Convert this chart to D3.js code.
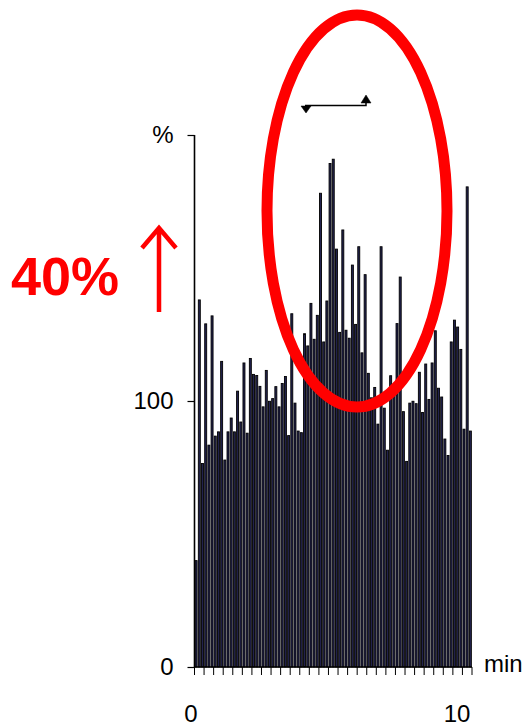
<!DOCTYPE html>
<html>
<head>
<meta charset="utf-8">
<script src="https://cdn.jsdelivr.net/npm/d3@7"></script>
<style>
  html, body { margin: 0; padding: 0; background: #fff; }
  svg { display: block; }
</style>
</head>
<body>
<svg id="chart" width="526" height="728"></svg>
<script>
// percent of baseline, one bar per sample over 10 min
const values = [
    40, 138, 76.5, 129, 83.4, 132, 86.8, 88.4, 114.9, 77.8,
    88.4, 93.6, 88.4, 103.7, 92.1, 114.3, 87.9, 116, 110, 109.6,
    105.5, 97.8, 111.5, 99.9, 100.9, 105.4, 97.8, 106.6, 109.2, 87,
    132.8, 99.2, 88.7, 88.1, 125.3, 120.7, 136.7, 123.2, 132.2, 178.1,
    122.2, 137.6, 189.3, 190.9, 157.1, 125.8, 164.3, 126.6, 123.6, 151.1,
    128.8, 158, 118.1, 147.5, 110.4, 101.2, 105.1, 91.3, 158, 97.3,
    81.5, 109.5, 103.2, 129.1, 146.6, 96, 77.3, 99.2, 99.9, 99,
    110.8, 95.7, 113.9, 100.6, 114.3, 126.4, 104.8, 101.5, 85.7, 79.5,
    122.2, 130.4, 127.8, 119.4, 89.4, 180.5, 88.7
];
const yTicks = [0, 100, 200];
const yTickLabels = ['0', '100', '%'];
const xLabels = [{t: 0, label: '0'}, {t: 10, label: '10'}];
const xUnit = 'min';
const callout = '40%';

(function () {
    const svg = d3.select('#chart')
        .style('font-family', '"Liberation Sans", Arial, sans-serif');

    const x = d3.scaleBand()
        .domain(d3.range(values.length))
        .range([194.5, 472])
        .paddingInner(0.38)
        .paddingOuter(0.2);

    const y = d3.scaleLinear()
        .domain([0, 200])
        .range([667, 135]);

    // minutes -> px, 0..10 min spans the sampled range
    const t = d3.scaleLinear().domain([0, 10]).range([191, 457]);

    // bars
    svg.append('g')
        .selectAll('rect')
        .data(values)
        .join('rect')
        .attr('x', (d, i) => x(i))
        .attr('y', d => y(d))
        .attr('width', x.bandwidth())
        .attr('height', d => y(0) - y(d))
        .attr('fill', '#22224e')
        .attr('stroke', '#000')
        .attr('stroke-width', 0.9);

    // y axis
    const yAxis = svg.append('g')
        .attr('transform', 'translate(194.5,0)')
        .call(d3.axisLeft(y).tickValues(yTicks).tickSize(7)
            .tickFormat((d, i) => yTickLabels[i]));
    yAxis.select('.domain').attr('d', `M0,${y(200)}V${y(0)}`).attr('stroke-width', 1.6);
    yAxis.selectAll('.tick line').attr('stroke-width', 1.2);
    yAxis.selectAll('.tick text')
        .attr('x', -21)
        .attr('font-size', 24)
        .attr('font-family', '"Liberation Sans", Arial, sans-serif')
        .attr('fill', '#000');

    // x axis: tick every 3 samples
    const xTickPos = d3.range(0, values.length + 1, 3).map(i => 194.5 + (472 - 194.5) * i / values.length);
    const xAxis = svg.append('g');
    xAxis.append('line')
        .attr('x1', 194.5).attr('x2', 472)
        .attr('y1', y(0)).attr('y2', y(0))
        .attr('stroke', '#000').attr('stroke-width', 1.6);
    xAxis.selectAll('line.tk')
        .data(xTickPos)
        .join('line')
        .attr('class', 'tk')
        .attr('x1', d => d).attr('x2', d => d)
        .attr('y1', y(0)).attr('y2', y(0) + 8)
        .attr('stroke', '#000').attr('stroke-width', 1);

    svg.append('text')
        .attr('x', 484).attr('y', 672)
        .attr('font-size', 24)
        .text(xUnit);

    svg.selectAll('text.xl')
        .data(xLabels)
        .join('text')
        .attr('class', 'xl')
        .attr('x', d => t(d.t))
        .attr('y', 722)
        .attr('text-anchor', 'middle')
        .attr('font-size', 24)
        .text(d => d.label);

    // black marker above the peak
    const mk = svg.append('g').attr('fill', '#000').attr('stroke', '#000');
    mk.append('path')
        .attr('d', 'M305,105.5H366V101')
        .attr('fill', 'none').attr('stroke-width', 1.5);
    mk.append('path').attr('d', 'M301,106L311,106L306,113Z').attr('stroke-width', 0.5);
    mk.append('path').attr('d', 'M361,103L371,103L366,95Z').attr('stroke-width', 0.5);

    // red annotation
    svg.append('ellipse')
        .attr('cx', 357).attr('cy', 211)
        .attr('rx', 90).attr('ry', 196)
        .attr('fill', 'none')
        .attr('stroke', '#ff0000')
        .attr('stroke-width', 11);

    svg.append('text')
        .attr('x', 11).attr('y', 295)
        .attr('font-size', 54)
        .attr('font-weight', 'bold')
        .attr('fill', '#ff0000')
        .text(callout);

    svg.append('path')
        .attr('d', 'M159,312V228M142,248L159,228L176,248')
        .attr('fill', 'none')
        .attr('stroke', '#ff0000')
        .attr('stroke-width', 4.5);
})();
</script>
</body>
</html>
